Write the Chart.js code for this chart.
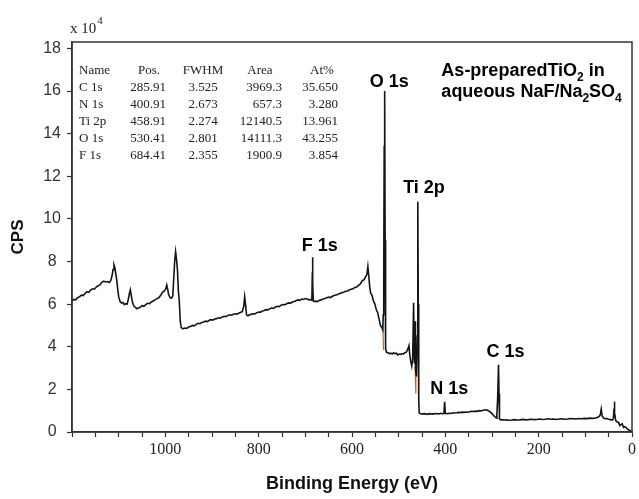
<!DOCTYPE html>
<html>
<head>
<meta charset="utf-8">
<script src="https://cdn.jsdelivr.net/npm/chart.js@4.4.1/dist/chart.umd.min.js"></script>
<style>
  html, body { margin: 0; padding: 0; background: #fff; }
  #wrap { width: 639px; height: 499px; }
</style>
</head>
<body>
<div id="wrap"><canvas id="xps" width="639" height="499"></canvas></div>
<script>
// --- survey spectrum (CPS in units of 10^4) ---
const bindingEnergy = [
  1200,1196,1192,1188,1184,1180,1176,1172,1168,1164,1160,1156,1152,1148,1144,1140,1136,1132,1128,1124,
  1120,1117,1114,1112,1110,1108,1106,1104,1102,1100,1097,1094,1091,1088,1085,1082,1079,1077,1075,1073,
  1070,1067,1064,1061,1058,1054,1050,1046,1042,1038,1034,1030,1026,1022,1018,1014,1010,1006,1002,999,
  997,995,993,990,987,984,982,980,978,976,974,972,970,968,966,962,958,954,950,946,
  942,938,934,930,926,922,918,914,910,906,902,898,894,890,886,882,878,874,870,866,
  862,858,854,850,846,842,838,835,832,830,828,826,823,820,816,812,808,804,800,796,
  792,788,784,780,776,772,768,764,760,756,752,748,744,740,736,732,728,724,720,716,
  712,708,704,700,696,692,688,686,685,684.5,684,683,681,678,674,670,666,662,658,654,
  650,646,642,638,634,630,626,622,618,614,610,606,602,598,594,590,586,582,578,574,
  571,568,566,564,562,560,557,554,551,548,545,542,539,536,534,533,532,531,530,529,
  528,526,523,520,517,514,511,508,505,502,499,496,493,490,487,484,481,478,476,474,
  472,470,468,467,466,465,464,462,460,459,458,457,456,453,450,446,442,438,434,430,
  426,422,418,414,410,406,403,401.5,400,396,392,388,384,380,376,372,368,364,360,356,
  352,348,344,340,336,332,328,324,320,316,312,308,304,300,296,292,290,288,286,285,
  284,282,278,274,270,264,258,252,246,240,234,228,222,216,210,204,198,192,186,180,
  174,168,162,156,150,144,138,132,126,120,114,108,102,96,90,84,78,74,70,68,
  66,64,61,58,54,50,46,42,40,38.5,37.7,37,35,33,30,28,26,24,21,18,
  15,12,9,6,3,0
];
const cps = [
  6.14,6.22,6.20,6.30,6.34,6.42,6.40,6.50,6.58,6.55,6.66,6.72,6.70,6.80,6.86,6.90,7.02,7.08,7.04,7.06,
  7.02,7.10,7.35,7.62,7.84,7.70,7.40,7.10,6.70,6.35,6.12,6.05,6.08,5.98,6.02,6.00,6.25,6.50,6.67,6.40,
  6.05,5.90,5.85,5.78,5.82,5.85,5.93,5.90,5.98,6.04,6.02,6.10,6.15,6.20,6.26,6.30,6.42,6.55,6.62,6.72,
  6.90,6.70,6.45,6.32,6.28,6.38,7.20,8.00,8.46,8.10,7.60,6.60,6.10,5.20,4.90,4.84,4.88,4.86,4.93,4.95,
  5.00,4.98,5.05,5.10,5.08,5.14,5.16,5.20,5.18,5.24,5.27,5.25,5.30,5.32,5.36,5.34,5.40,5.43,5.41,5.47,
  5.50,5.48,5.52,5.55,5.53,5.58,5.62,5.65,5.90,6.35,5.95,5.50,5.45,5.50,5.52,5.55,5.54,5.60,5.63,5.62,
  5.68,5.70,5.74,5.73,5.79,5.82,5.80,5.87,5.90,5.88,5.95,5.98,5.97,6.02,6.06,6.04,6.10,6.12,6.16,6.20,
  6.18,6.24,6.22,6.26,6.24,6.20,6.22,6.18,7.50,8.20,7.00,6.20,6.12,6.14,6.12,6.18,6.20,6.24,6.26,6.30,
  6.33,6.31,6.37,6.40,6.43,6.46,6.50,6.53,6.56,6.60,6.62,6.66,6.70,6.72,6.78,6.80,6.88,6.95,7.10,7.15,
  7.28,7.40,7.76,7.30,6.80,6.52,6.40,6.15,6.00,5.75,5.60,5.30,5.00,4.90,4.80,5.50,7.00,13.40,16.00,9.00,
  3.90,3.74,3.72,3.68,3.70,3.66,3.72,3.68,3.70,3.62,3.66,3.64,3.68,3.66,3.72,3.74,3.85,4.05,3.60,3.30,
  3.10,3.40,6.06,4.20,3.20,5.20,3.00,2.60,4.50,10.80,6.00,1.50,0.90,0.86,0.84,0.86,0.85,0.83,0.86,0.85,
  0.84,0.87,0.86,0.85,0.88,0.86,0.87,1.42,0.88,0.86,0.88,0.87,0.90,0.89,0.90,0.92,0.91,0.93,0.92,0.94,
  0.93,0.95,0.97,0.96,0.98,0.97,1.00,0.99,1.01,1.03,1.04,1.00,0.94,0.86,0.76,0.68,0.66,1.50,3.15,1.80,
  0.62,0.58,0.57,0.56,0.57,0.55,0.56,0.58,0.56,0.57,0.59,0.57,0.58,0.60,0.58,0.59,0.61,0.59,0.60,0.62,
  0.60,0.61,0.59,0.61,0.62,0.60,0.61,0.63,0.62,0.61,0.63,0.62,0.64,0.63,0.65,0.64,0.66,0.68,0.74,0.80,
  1.07,0.75,0.66,0.62,0.63,0.60,0.58,0.56,0.62,1.10,1.42,0.90,0.55,0.48,0.47,0.40,0.30,0.35,0.38,0.22,
  0.25,0.20,0.12,0.08,0.05,0.02
];
// short orange background segments visible at the steep edges
const edgeEnergy = [533.6, 532.4, null, 464.8, 463.2, null, 291, 287.5];
const edgeCps    = [4.80, 3.85, null, 3.07, 1.80, null, 0.78, 0.62];

// peak labels: text, energy, cps at baseline
const peakNames  = ['O 1s', 'Ti 2p', 'F 1s', 'C 1s', 'N 1s'];
const peakEnergy = [520, 445.7, 669, 271, 391.5];
const peakLabelY = [16.18, 11.22, 8.5, 3.5, 1.77];

// fit summary table
const tableHeader = ['Name', 'Pos.', 'FWHM', 'Area', 'At%'];
const tableNames  = ['C 1s', 'N 1s', 'Ti 2p', 'O 1s', 'F 1s'];
const tablePos    = ['285.91', '400.91', '458.91', '530.41', '684.41'];
const tableFwhm   = ['3.525', '2.673', '2.274', '2.801', '2.355'];
const tableArea   = ['3969.3', '657.3', '12140.5', '14111.3', '1900.9'];
const tableAt     = ['35.650', '3.280', '13.961', '43.255', '3.854'];

const SANS = '"Liberation Sans", Arial, Helvetica, sans-serif';
const SERIF = '"Liberation Serif", "Times New Roman", serif';

// draw text made of [string, 'sub'] pieces
function drawRich(ctx, parts, x, y, size, weight) {
  let cx = x;
  parts.forEach(([txt, mode]) => {
    const s = mode ? Math.round(size * 0.68) : size;
    ctx.font = `${weight} ${s}px ${SANS}`;
    const dy = mode === 'sub' ? size * 0.3 : 0;
    ctx.fillText(txt, cx, y + dy);
    cx += ctx.measureText(txt).width;
  });
}

const decorations = {
  id: 'decorations',
  afterDraw(chart) {
    const ctx = chart.ctx;
    const a = chart.chartArea;
    const sx = chart.scales.x, sy = chart.scales.y;
    ctx.save();
    // frame
    ctx.strokeStyle = '#333';
    ctx.lineWidth = 1.5;
    ctx.strokeRect(a.left, a.top, a.right - a.left, a.bottom - a.top);

    // multiplier
    ctx.fillStyle = '#222';
    ctx.textAlign = 'left';
    ctx.textBaseline = 'alphabetic';
    ctx.font = `15px ${SERIF}`;
    ctx.fillText('x 10', a.left - 2, 33);
    const w = ctx.measureText('x 10').width;
    ctx.font = `11px ${SERIF}`;
    ctx.fillText('4', a.left - 2 + w + 1, 24);

    // peak labels
    ctx.fillStyle = '#000';
    ctx.textAlign = 'center';
    ctx.font = `bold 18px ${SANS}`;
    peakNames.forEach((n, i) => {
      ctx.fillText(n, sx.getPixelForValue(peakEnergy[i]), sy.getPixelForValue(peakLabelY[i]));
    });

    // sample description
    ctx.textAlign = 'left';
    const tx = sx.getPixelForValue(408.5);
    drawRich(ctx, [['As-preparedTiO'], ['2', 'sub'], [' in']], tx, sy.getPixelForValue(16.71), 18, 'bold');
    drawRich(ctx, [['aqueous NaF/Na'], ['2', 'sub'], ['SO'], ['4', 'sub']], tx, sy.getPixelForValue(15.74), 18, 'bold');

    // table
    ctx.fillStyle = '#222';
    ctx.font = `13px ${SERIF}`;
    const L = a.left, T = a.top;
    const rowY = i => T + 32 + i * 16.9;
    ctx.textAlign = 'left';   ctx.fillText(tableHeader[0], L + 7, rowY(0));
    ctx.textAlign = 'center'; ctx.fillText(tableHeader[1], L + 77, rowY(0));
    ctx.fillText(tableHeader[2], L + 131, rowY(0));
    ctx.fillText(tableHeader[3], L + 188, rowY(0));
    ctx.fillText(tableHeader[4], L + 250, rowY(0));
    tableNames.forEach((n, i) => {
      const y = rowY(i + 1);
      ctx.textAlign = 'left';   ctx.fillText(n, L + 7, y);
      ctx.textAlign = 'right';  ctx.fillText(tablePos[i], L + 94, y);
      ctx.textAlign = 'center'; ctx.fillText(tableFwhm[i], L + 131, y);
      ctx.textAlign = 'right';  ctx.fillText(tableArea[i], L + 210, y);
      ctx.fillText(tableAt[i], L + 266, y);
    });
    ctx.restore();
  }
};

new Chart(document.getElementById('xps'), {
  type: 'line',
  data: {
    datasets: [
      {
        data: bindingEnergy.map((e, i) => ({ x: e, y: cps[i] })),
        borderColor: '#141414',
        borderWidth: 1.6,
        pointRadius: 0,
        tension: 0
      },
      {
        data: edgeEnergy.map((e, i) => ({ x: e === null ? 500 : e, y: e === null ? null : edgeCps[i] })),
        borderColor: '#c8641e',
        borderWidth: 1.2,
        pointRadius: 0,
        spanGaps: false,
        tension: 0
      }
    ]
  },
  options: {
    responsive: false,
    animation: false,
    layout: { padding: { top: 42, right: 2, left: 0, bottom: 0 } },
    plugins: { legend: { display: false }, tooltip: { enabled: false } },
    scales: {
      x: {
        type: 'linear',
        reverse: true,
        min: 0,
        max: 1200,
        afterFit: s => { s.height = 67; },
        border: { display: true, color: '#333', width: 1.5 },
        grid: { drawOnChartArea: false, drawTicks: true, tickLength: 5, tickColor: '#333', tickWidth: 1.2 },
        ticks: {
          stepSize: 50,
          autoSkip: false,
          maxRotation: 0,
          includeBounds: false,
          padding: 3,
          color: '#222',
          font: { family: SERIF, size: 16 },
          callback: v => (v % 200 === 0 && v < 1200) ? String(v) : ''
        },
        title: {
          display: true,
          text: 'Binding Energy (eV)',
          color: '#111',
          font: { family: SANS, size: 18, weight: 'bold' },
          padding: { top: 4, bottom: 4 }
        }
      },
      y: {
        min: 0,
        max: 18.3,
        afterFit: s => { s.width = 72; },
        border: { display: true, color: '#333', width: 1.5 },
        grid: { drawOnChartArea: false, drawTicks: true, tickLength: 5, tickColor: '#333', tickWidth: 1.2 },
        ticks: {
          stepSize: 1,
          includeBounds: false,
          crossAlign: 'center',
          padding: 6,
          color: '#333',
          font: { family: SANS, size: 16 },
          callback: v => (v % 2 === 0) ? String(v) : ''
        },
        title: {
          display: true,
          text: 'CPS',
          color: '#111',
          font: { family: SANS, size: 17, weight: 'bold' },
          padding: { top: 8, bottom: 0 }
        }
      }
    }
  },
  plugins: [decorations]
});
</script>
</body>
</html>
